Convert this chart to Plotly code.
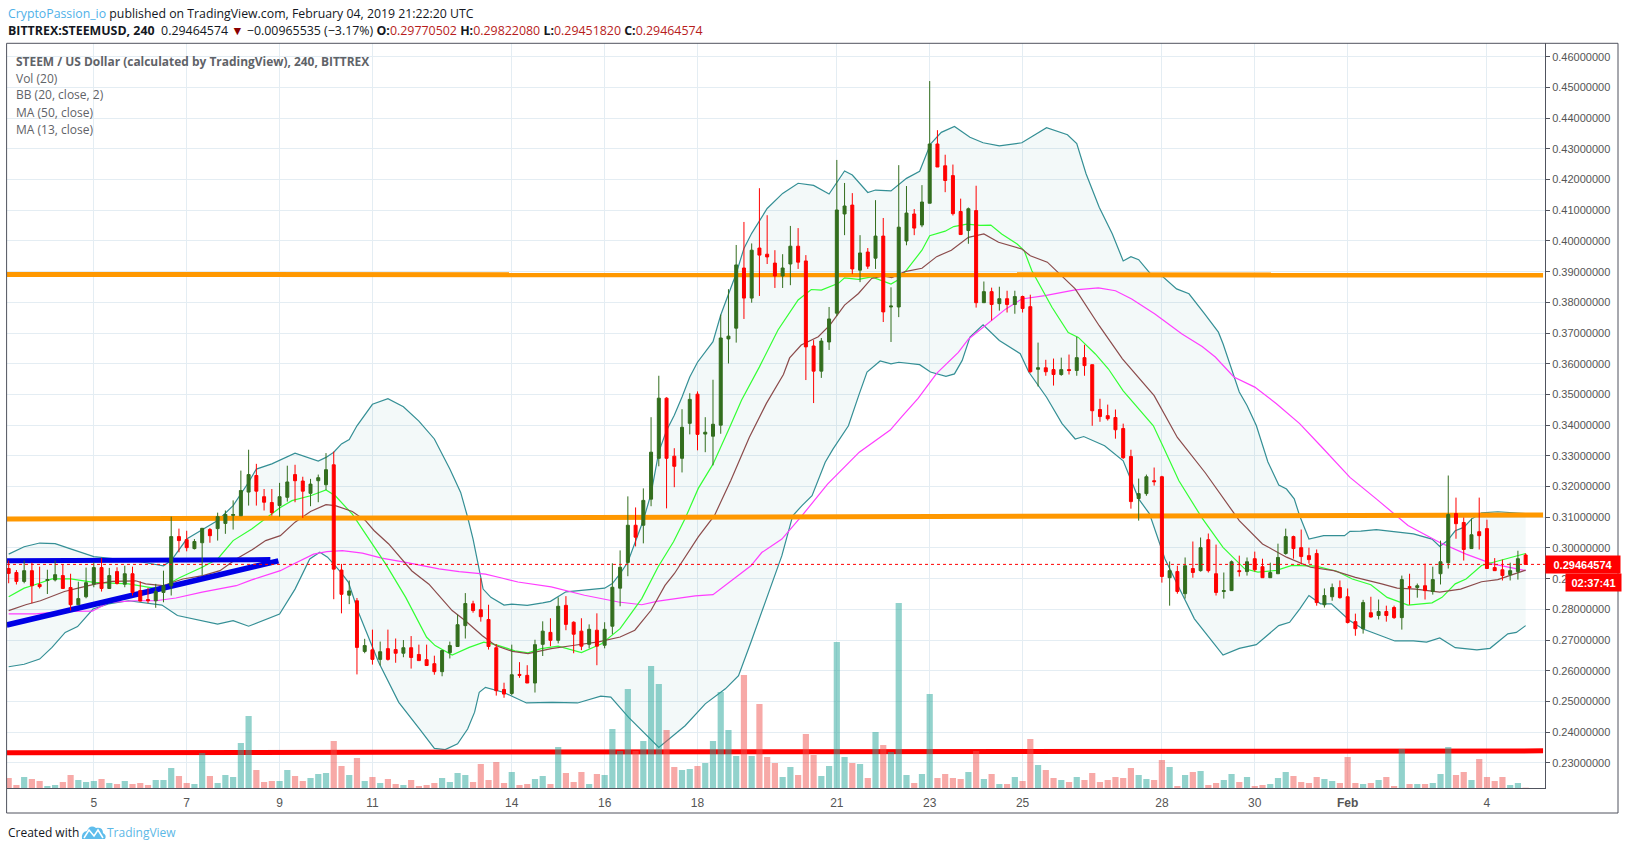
from datetime import datetime, timedelta
import plotly.graph_objects as go

# 4h candles, bar 1 opens Jan 3 04:00
opens = [.2933,.2920,.2891,.2926,.2881,.2894,.2896,.2910,.2871,.2815,
.2841,.2882,.2936,.2868,.2923,.2882,.2916,.2861,.2832,.2828,
.2855,.2877,.3037,.3027,.2998,.3017,.3060,.3063,.3080,.3106,
.3105,.3182,.3236,.3167,.3148,.3138,.3165,.3239,.3218,.3178,
.3219,.3206,.3271,.2928,.2846,.2828,.2663,.2668,.2637,.2672,
.2669,.2657,.2675,.2653,.2636,.2623,.2597,.2659,.2679,.2747,
.2818,.2799,.2767,.2675,.2539,.2526,.2588,.2585,.2560,.2686,
.2725,.2699,.2813,.2758,.2729,.2686,.2732,.2683,.2745,.2869,
.2953,.3074,.3074,.3159,.3292,.3488,.3299,.3292,.3406,.3501,
.3371,.3364,.3400,.3681,.3716,.3912,.3814,.3977,.3957,.3928,
.3886,.3925,.3983,.3935,.3658,.3576,.3671,.3765,.4088,.4117,
.3905,.3964,.3944,.4016,.3785,.3785,.4000,.4088,.4052,.4123,
.4316,.4245,.4213,.4096,.4034,.4099,.3799,.3835,.3796,.3812,
.3793,.3819,.3786,.3582,.3587,.3581,.3565,.3581,.3578,.3620,
.3597,.3451,.3431,.3425,.3389,.3298,.3161,.3177,.3219,.3232,
.2903,.2923,.2851,.2933,.2926,.3027,.2916,.2858,.2861,.2926,
.2923,.2965,.2939,.2903,.2916,.2982,.3037,.3001,.2975,.2982,
.2815,.2841,.2871,.2841,.2760,.2737,.2789,.2780,.2793,.2806,
.2773,.2874,.2871,.2877,.2858,.2916,.2952,.3112,.3083,.2998,
.3053,.3063,.2936,.2929,.2913,.2923,.29770502]
closes = [.2917,.2891,.2926,.2877,.2874,.2897,.2913,.2868,.2815,.2835,
.2887,.2936,.2868,.2910,.2884,.2916,.2855,.2827,.2828,.2858,
.2877,.3037,.3024,.3001,.3021,.3064,.3040,.3102,.3109,.3109,
.3187,.3239,.3185,.3149,.3115,.3167,.3215,.3219,.3185,.3208,
.3229,.3255,.2931,.2849,.2860,.2676,.2682,.2637,.2662,.2637,
.2657,.2675,.2643,.2633,.2617,.2597,.2666,.2682,.2750,.2819,
.2796,.2776,.2679,.2535,.2524,.2587,.2585,.2560,.2685,.2729,
.2699,.2810,.2751,.2719,.2680,.2735,.2680,.2735,.2872,.2937,
.3074,.3035,.3155,.3312,.3488,.3292,.3266,.3393,.3484,.3370,
.3377,.3403,.3684,.3690,.3922,.3814,.3970,.3954,.3948,.3886,
.3912,.3983,.3931,.3655,.3576,.3674,.3746,.4101,.4114,.3909,
.3961,.3918,.4016,.3769,.3788,.4045,.4091,.4042,.4127,.4316,
.4241,.4197,.4089,.4021,.4105,.3799,.3835,.3793,.3812,.3793,
.3819,.3780,.3574,.3587,.3574,.3565,.3581,.3578,.3620,.3594,
.3447,.3428,.3421,.3385,.3294,.3151,.3177,.3232,.3216,.2907,
.2926,.2858,.2942,.2920,.3001,.2926,.2855,.2861,.2955,.2923,
.2955,.2929,.2903,.2920,.2969,.3037,.2998,.2972,.2962,.2822,
.2845,.2871,.2838,.2757,.2737,.2822,.2775,.2793,.2780,.2773,
.2897,.2871,.2877,.2861,.2897,.2955,.3109,.3079,.2995,.3043,
.3040,.2933,.2926,.2910,.2926,.2965,.29464574]
highs = [.2959,.2928,.2959,.2952,.2939,.2929,.2959,.2945,.2916,.2890,
.2936,.2953,.2967,.2935,.2937,.2942,.2939,.2891,.2870,.2883,
.2926,.3102,.3063,.3056,.3029,.3065,.3065,.3115,.3122,.3155,
.3252,.3320,.3274,.3192,.3192,.3212,.3268,.3271,.3232,.3225,
.3239,.3309,.3314,.2948,.2894,.2837,.2704,.2734,.2695,.2734,
.2705,.2700,.2713,.2685,.2685,.2649,.2668,.2695,.2783,.2853,
.2828,.2902,.2815,.2687,.2561,.2685,.2628,.2618,.2701,.2761,
.2771,.2839,.2843,.2761,.2771,.2751,.2787,.2758,.2950,.2992,
.3168,.3132,.3194,.3426,.3561,.3491,.3325,.3452,.3504,.3510,
.3426,.3548,.3760,.3843,.3987,.4062,.3992,.4172,.4084,.3970,
.3957,.4049,.4042,.3954,.3677,.3684,.3785,.4264,.4189,.4156,
.4019,.3977,.4133,.4075,.3849,.4247,.4179,.4104,.4182,.4521,
.4361,.4281,.4249,.4138,.4109,.4180,.3868,.3848,.3851,.3838,
.3838,.3822,.3825,.3669,.3613,.3617,.3620,.3630,.3688,.3662,
.3597,.3486,.3467,.3451,.3405,.3320,.3226,.3239,.3262,.3235,
.2956,.2942,.2969,.3021,.3034,.3047,.3011,.2920,.2959,.2975,
.2969,.2988,.2965,.2952,.3014,.3063,.3040,.3060,.3001,.2995,
.2868,.2884,.2894,.2868,.2786,.2831,.2841,.2832,.2812,.2812,
.2910,.2916,.2884,.2949,.2939,.3024,.3236,.3164,.3099,.3096,
.3164,.3092,.2967,.2962,.2952,.2991,.29822080]
lows = [.2885,.2881,.2885,.2820,.2868,.2850,.2891,.2868,.2796,.2815,
.2836,.2872,.2858,.2868,.2881,.2872,.2845,.2826,.2820,.2805,
.2823,.2845,.2986,.2989,.2995,.2910,.3017,.3024,.3046,.3060,
.3105,.3138,.3138,.3122,.3105,.3102,.3151,.3149,.3098,.3136,
.3149,.3189,.2833,.2787,.2817,.2588,.2657,.2620,.2617,.2633,
.2626,.2644,.2607,.2633,.2617,.2587,.2582,.2640,.2679,.2705,
.2789,.2760,.2669,.2519,.2512,.2520,.2577,.2560,.2529,.2648,
.2680,.2689,.2732,.2657,.2667,.2673,.2618,.2673,.2719,.2810,
.2908,.3005,.3015,.3136,.3266,.3129,.3198,.3246,.3370,.3318,
.3312,.3269,.3372,.3601,.3669,.3746,.3799,.3821,.3925,.3847,
.3847,.3856,.3909,.3547,.3472,.3554,.3645,.3755,.4019,.3892,
.3866,.3909,.3909,.3736,.3671,.3752,.3986,.4019,.4045,.4123,
.4241,.4159,.4083,.4021,.3991,.3783,.3799,.3741,.3773,.3767,
.3763,.3767,.3571,.3526,.3561,.3529,.3561,.3565,.3561,.3561,
.3398,.3411,.3415,.3356,.3290,.3128,.3089,.3170,.3203,.2887,
.2812,.2851,.2835,.2903,.2923,.2920,.2845,.2835,.2861,.2907,
.2910,.2923,.2903,.2903,.2916,.2978,.2965,.2946,.2949,.2812,
.2806,.2828,.2835,.2754,.2714,.2721,.2773,.2767,.2760,.2769,
.2734,.2815,.2838,.2832,.2848,.2881,.2933,.3030,.2959,.2998,
.2995,.2933,.2926,.2894,.2894,.2897,.29451820]
volumes = [10,3,11,9,7,2,3,6,13,8,6,7,9,5,4,7,4,5,3,8,
8,20,12,5,4,35,12,5,13,11,45,72,18,6,7,7,18,12,7,10,
14,15,47,22,13,30,7,11,5,9,4,3,8,2,3,5,10,6,15,13,
6,24,8,26,5,16,3,4,9,12,4,41,15,6,16,4,14,13,59,37,
99,37,47,122,104,58,21,18,19,22,25,47,96,58,32,113,32,84,31,25,
11,21,13,54,33,12,22,146,31,25,24,10,56,43,36,185,13,5,14,94,
10,14,10,9,16,37,9,14,4,4,11,7,49,23,18,10,8,6,11,8,
15,6,8,11,10,20,13,9,8,28,21,2,13,16,17,3,5,8,14,6,
11,2,3,4,10,16,12,6,5,11,9,7,5,31,5,4,5,8,11,2,
39,4,4,4,5,14,41,13,16,8,29,11,7,11,3,5,0.3]

upper_bars = [1,3,5,7,9,12,15,18,20,21,22,24,26,28,30,32,33,35,38,39,41,42,43,44,45,46,48,50,52,54,
56,58,59.4,60.3,61,61.7,62.3,63.3,65,66,68,70,71,73,75,78,79,80,81,83,84,85,86,87,88,89,90,92,93,94,
95,96,97,99,101,103,105,107,109,110,112,113,115,117,118.7,120.1,121.5,123.2,125.2,126.9,129,131.9,135.1,137.8,139,140.2,141.9,143.6,145,146,
147,148.7,150.1,151.9,153.5,155.5,157.3,157.9,159.3,160,161,162.2,163.7,165.1,166.1,167.1,167.8,169,170.9,173.6,174.3,175.7,177.7,180.4,182.5,184.9,185.9,186.9,187.9,189,
190,191.3,193.4,197]
upper_vals = [.2980,.3004,.3016,.3014,.2997,.2972,.2964,.2955,.2946,.2942,.2959,.3029,.3059,.3089,.3138,.3214,.3257,.3274,.3309,.3301,.3283,.3295,.3312,.3339,.3353,.3398,.3468,.3486,.3460,.3413,
.3355,.3257,.3181,.3100,.3029,.2942,.2866,.2839,.2814,.2817,.2813,.2821,.2826,.2857,.2862,.2869,.2884,.2916,.2954,.3090,.3177,.3313,.3383,.3432,.3492,.3557,.3605,.3672,.3759,.3827,
.3894,.3976,.4025,.4106,.4155,.4188,.4181,.4153,.4228,.4215,.4158,.4166,.4163,.4204,.4227,.4316,.4354,.4373,.4338,.4320,.4310,.4320,.4369,.4346,.4317,.4219,.4110,.4023,.3935,.3949,
.3939,.3888,.3884,.3844,.3828,.3763,.3703,.3665,.3556,.3508,.3464,.3399,.3280,.3205,.3192,.3160,.3105,.3029,.3040,.3040,.3054,.3055,.3060,.3051,.3046,.3029,.3005,.3024,.3056,.3067,
.3094,.3114,.3118,.3112]

lower_bars = [1,3,5,6.6,8.3,9.9,11.9,13.9,16.5,20.8,22.8,28,30,32,36,38,39.9,41.2,42.2,43.9,44.9,46.2,48.8,51.4,54.1,56,57.4,59,60.3,61.2,
61.8,62.6,64.9,67.9,71.2,74.5,77.5,78.8,81.1,85,88.4,91,93.6,95.3,96.9,98.9,100.9,102.3,103.5,104.8,106.5,107.5,109.5,110.9,111.9,113.6,115,116,118.7,120.1,
122.1,123.2,124.2,125.2,126.9,129,131.7,132.8,135.1,137.1,138.8,139.9,142.6,145,147,148.4,150.4,152.5,154.2,157.9,160,162.2,165.1,166.5,167.8,169,170.5,171.9,174.3,176,
177.7,180.1,182.5,184.2,185.9,187.9,190.7,192.4,194.7,195.8,197]
lower_vals = [.2613,.2621,.2638,.2676,.2725,.2744,.2801,.2818,.2828,.2814,.2780,.2752,.2763,.2745,.2785,.2866,.2964,.2986,.2970,.2921,.2888,.2790,.2628,.2497,.2410,.2347,.2343,.2362,.2410,.2465,
.2530,.2546,.2530,.2495,.2497,.2495,.2517,.2514,.2448,.2350,.2421,.2492,.2541,.2584,.2693,.2834,.2975,.3105,.3138,.3170,.3279,.3322,.3398,.3502,.3573,.3609,.3600,.3605,.3597,.3573,
.3559,.3567,.3611,.3687,.3727,.3676,.3633,.3573,.3491,.3405,.3355,.3363,.3333,.3284,.3160,.3111,.2964,.2856,.2769,.2651,.2673,.2685,.2747,.2758,.2801,.2845,.2818,.2818,.2763,.2736,
.2720,.2697,.2697,.2693,.2707,.2675,.2668,.2673,.2720,.2725,.2747]

green_bars = [1,3,4,6.6,9,12,16.5,20.5,23,26,28,30,32.4,34.6,36.1,37.6,40,42,43.2,45.4,47.1,49.7,52.3,55,56.1,58.3,60.5,62.4,63.9,66.4,
68.1,69.8,72,75,77.6,80,82.8,84.9,86.9,88.4,90.1,92,94,95.7,98,100.4,103,104.7,106,108.2,109,110.8,112.5,115,115.9,117,119,120,122,123.1,
124.8,126.5,127.9,129.3,131.3,132.2,133.2,135.8,137.9,139.2,141.4,143.1,145,148.9,150.2,152.2,155.2,157.9,160.7,162.4,164.8,166.8,169.9,172.6,174.6,177,179.1,181.8,184.9,186.2,
187.9,189.3,191.3,194,197]
green_vals = [.2841,.2869,.2877,.2899,.2899,.2888,.2883,.2866,.2902,.2937,.2964,.3024,.3062,.3105,.3132,.3154,.3170,.3189,.3170,.3110,.3046,.2948,.2839,.2709,.2682,.2651,.2676,.2693,.2685,.2665,
.2658,.2672,.2680,.2659,.2688,.2737,.2835,.2938,.3020,.3096,.3194,.3273,.3384,.3482,.3590,.3710,.3808,.3842,.3840,.3862,.3880,.3875,.3883,.3860,.3873,.3905,.3970,.4017,.4032,.4047,
.4055,.4051,.4052,.4023,.3990,.3969,.3903,.3784,.3702,.3686,.3632,.3583,.3512,.3398,.3328,.3219,.3097,.3002,.2932,.2921,.2927,.2943,.2941,.2924,.2899,.2880,.2839,.2814,.2821,.2839,
.2883,.2899,.2943,.2962,.2982]

brown_bars = [1,3.2,5.1,8.2,10.1,12.3,14.4,17.4,18.7,20.9,23.5,26.1,28.3,30.4,32.4,34.2,36.1,38,40,42,43.2,45.4,47.1,48.2,50.1,53.1,55.3,58.3,60,62.2,
63.9,66.1,68.1,71.1,74.1,77.2,80,81.9,84,85.8,87,90.1,92.2,94.3,96.7,98.9,101.1,101.9,103.4,105.6,107.1,109,110.8,112.5,114,115.1,116.8,119,120.9,122.8,
125,127,128.9,131.9,133,135.2,138.8,141.9,144.9,149,152,155.6,160,163,166.1,169.2,172.2,175,178.4,180.4,182.8,185.9,188.6,191.3,193.4,197]
brown_vals = [.2796,.2815,.2828,.2858,.2870,.2883,.2891,.2893,.2883,.2877,.2899,.2910,.2926,.2964,.2993,.3024,.3040,.3084,.3119,.3141,.3138,.3119,.3089,.3057,.3013,.2925,.2882,.2796,.2763,.2714,
.2682,.2663,.2656,.2672,.2683,.2694,.2710,.2732,.2797,.2878,.2916,.3036,.3106,.3220,.3361,.3471,.3565,.3619,.3661,.3688,.3726,.3791,.3829,.3878,.3886,.3881,.3900,.3911,.3949,.3970,
.4012,.4023,.3996,.3974,.3952,.3931,.3844,.3724,.3616,.3496,.3360,.3245,.3089,.3013,.2970,.2937,.2926,.2904,.2883,.2869,.2866,.2856,.2866,.2890,.2897,.2928]

magenta_bars = [1,4.5,7.9,11.8,14,17.4,20,22.6,26,30.4,32.4,36.1,37.8,40.4,42.1,44.1,46.7,49.2,52.3,56.6,59.2,62.6,64.7,66.8,71.1,75.4,79.8,82.8,84.9,89.7,
92,94.4,96.9,98.3,100.9,103.5,106.8,110.9,114.9,116.4,118.5,120.9,123.7,125,127.2,129.8,131.9,134.9,138.8,141.8,144,146.1,149.1,152.6,155.2,156.9,159.3,162,164.8,167.8,
170.5,174.3,177.7,181.8,185.9,189.3,192.7,197]
magenta_vals = [.2785,.2785,.2793,.2794,.2823,.2828,.2828,.2837,.2856,.2877,.2896,.2926,.2948,.2980,.2988,.2991,.2983,.2967,.2953,.2932,.2923,.2915,.2902,.2889,.2873,.2846,.2824,.2815,.2827,.2844,
.2848,.2895,.2942,.2985,.3029,.3105,.3208,.3312,.3384,.3428,.3487,.3569,.3637,.3680,.3724,.3778,.3811,.3822,.3841,.3847,.3838,.3811,.3762,.3697,.3656,.3622,.3557,.3524,.3470,.3405,
.3333,.3230,.3160,.3073,.3018,.2980,.2948,.2926]

# drawn trend lines
line_start = "2019-01-03 03:00"
line_end = "2019-02-05 05:00"
orange_top = [.3891, .3889]
orange_mid = [.30945, .31075]
red_bottom = [.2333, .2339]
blue_flat_x = [line_start, "2019-01-08 19:15"]
blue_flat = [.2958, .2962]
blue_rise_x = [line_start, "2019-01-08 23:24"]
blue_rise = [.2749, .2958]

tick_dates = ["2019-01-05", "2019-01-07", "2019-01-09", "2019-01-11", "2019-01-14", "2019-01-16", "2019-01-18",
              "2019-01-21", "2019-01-23", "2019-01-25", "2019-01-28", "2019-01-30", "2019-02-01", "2019-02-04"]
tick_names = ["5", "7", "9", "11", "14", "16", "18", "21", "23", "25", "28", "30", "<b>Feb</b>", "4"]
price_ticks = [.23, .24, .25, .26, .27, .28, .29, .30, .31, .32, .33, .34, .35, .36, .37, .38, .39, .40, .41, .42, .43, .44, .45, .46]

W, H = 1627, 850
L, R, T, B = 7, 1545, 43, 788
Y_RANGE = [.2218, .4645]
GREY = "#50535e"
UP = "#336e1e"
DOWN = "#ff0000"


def bar_time(b):
    return datetime(2019, 1, 3, 4) + timedelta(hours=4 * (b - 1))


def px(x):
    return (x - L) / (R - L)


def py(y):
    return (B - y) / (B - T)


times = [bar_time(i + 1) for i in range(len(opens))]

fig = go.Figure()

# band fill
fig.add_trace(go.Scatter(
    x=[bar_time(b) for b in upper_bars] + [bar_time(b) for b in lower_bars[::-1]],
    y=upper_vals + lower_vals[::-1],
    mode="lines", line={"width": 0}, fill="toself", fillcolor="rgba(19,132,132,0.05)"))

for bars, vals, col in [(upper_bars, upper_vals, "#348f95"), (lower_bars, lower_vals, "#348f95"),
                        (magenta_bars, magenta_vals, "#ff3dff"), (green_bars, green_vals, "#33ff33"),
                        (brown_bars, brown_vals, "#8b4b4b")]:
    fig.add_trace(go.Scatter(x=[bar_time(b) for b in bars], y=vals, mode="lines", line={"color": col, "width": 1.2}))

for xs, ys, col, w in [([line_start, line_end], orange_top, "#ff9800", 5),
                       ([line_start, line_end], orange_mid, "#ff9800", 5),
                       ([line_start, line_end], red_bottom, "#ff0000", 5),
                       (blue_flat_x, blue_flat, "#0000e6", 5),
                       (blue_rise_x, blue_rise, "#0000e6", 5.5)]:
    fig.add_trace(go.Scatter(x=xs, y=ys, mode="lines", line={"color": col, "width": w}))

# volume, overlay axis so it sits over the lines
vol_colors = ["rgba(38,166,154,0.5)" if c >= o else "rgba(239,83,80,0.5)" for o, c in zip(opens, closes)]
fig.add_trace(go.Bar(x=times, y=volumes, marker={"color": vol_colors, "line": {"width": 0}}, yaxis="y2"))

fig.add_trace(go.Candlestick(
    x=times, open=opens, high=highs, low=lows, close=closes, yaxis="y3", whiskerwidth=0,
    increasing={"line": {"color": UP, "width": 1}, "fillcolor": UP},
    decreasing={"line": {"color": DOWN, "width": 1}, "fillcolor": DOWN}))

fig.update_layout(
    width=W, height=H, margin={"l": L, "r": W - R, "t": T, "b": H - B, "autoexpand": False},
    paper_bgcolor="white", plot_bgcolor="white", showlegend=False, bargap=0.2, boxgap=0.45,
    xaxis={"type": "date", "range": ["2019-01-03 03:08", "2019-02-05 06:00"], "rangeslider": {"visible": False},
           "tickvals": tick_dates, "ticktext": tick_names, "tickangle": 0,
           "showgrid": True, "gridcolor": "#e4edf3", "gridwidth": 1, "zeroline": False,
           "ticks": "outside", "ticklen": 4, "tickcolor": "rgba(0,0,0,0)",
           "tickfont": {"family": "Liberation Sans", "size": 12, "color": "#555555"},
           "showline": True, "linecolor": GREY, "linewidth": 1},
    yaxis={"range": Y_RANGE, "side": "right", "tickvals": price_ticks,
           "ticktext": [f"{v:.8f}" for v in price_ticks],
           "showgrid": True, "gridcolor": "#e4edf3", "gridwidth": 1, "zeroline": False,
           "ticks": "outside", "ticklen": 4, "tickcolor": GREY,
           "tickfont": {"family": "Liberation Sans", "size": 11, "color": "#555555"},
           "showline": True, "linecolor": GREY, "linewidth": 1},
    yaxis2={"range": [0, 745], "overlaying": "y", "visible": False},
    yaxis3={"range": Y_RANGE, "overlaying": "y", "visible": False},
)

last = closes[-1]
logo = "M 82 839 Q 81 832 87 831 Q 90 824 96 828 Q 103 827 103 833 Q 107 835 105 839 Z"


def logo_path():
    parts = logo.split()
    out = []
    i = 0
    while i < len(parts):
        if parts[i].isalpha():
            out.append(parts[i])
            i += 1
        else:
            out.append(f"{px(float(parts[i])):.5f},{py(float(parts[i + 1])):.5f}")
            i += 2
    return " ".join(out)


def mark_path():
    pts = [(84, 838), (89, 830), (94, 836), (98, 830), (103, 838)]
    return "M " + " L ".join(f"{px(a):.5f},{py(b):.5f}" for a, b in pts)


fig.update_layout(shapes=[
    {"type": "rect", "xref": "paper", "yref": "paper", "x0": px(6.6), "x1": px(1618), "y0": py(813), "y1": py(43.3),
     "line": {"color": GREY, "width": 1}},
    {"type": "line", "xref": "paper", "yref": "y", "x0": 0, "x1": 1, "y0": last, "y1": last,
     "line": {"color": "#ff0000", "width": 1, "dash": "dot"}},
    {"type": "path", "xref": "paper", "yref": "paper", "path": logo_path(), "fillcolor": "#5fbdec", "line": {"width": 0}},
    {"type": "path", "xref": "paper", "yref": "paper", "path": mark_path(), "line": {"color": "white", "width": 1.5}},
])


def note(x, y, text, size=12.3, color="#131722", family="Open Sans"):
    return {"xref": "paper", "yref": "paper", "x": px(x), "y": py(y), "xanchor": "left", "yanchor": "middle",
            "text": text, "showarrow": False, "font": {"family": family, "size": size, "color": color}}


RED_TXT = "#b71c1c"
quote = (f'<b>BITTREX:STEEMUSD, 240</b>  0.29464574 <span style="color:#8b0000">▼</span> −0.00965535 (−3.17%) '
         f'<b>O:</b><span style="color:{RED_TXT}">0.29770502</span> <b>H:</b><span style="color:{RED_TXT}">0.29822080</span> '
         f'<b>L:</b><span style="color:{RED_TXT}">0.29451820</span> <b>C:</b><span style="color:{RED_TXT}">0.29464574</span>')
notes = [
    note(5.5, 13, '<span style="color:#4fb1e8">CryptoPassion_io</span> published on TradingView.com, February 04, 2019 21:22:20 UTC'),
    note(5.5, 30, quote, size=12.4),
    note(13.5, 61, "<b>STEEM / US Dollar (calculated by TradingView), 240, BITTREX</b>", size=11.95, color="#5f6368"),
    note(13.5, 78, "Vol (20)", size=12, color="#5f6368"),
    note(13.5, 95, "BB (20, close, 2)", size=12, color="#5f6368"),
    note(13.5, 112, "MA (50, close)", size=12, color="#5f6368"),
    note(13.5, 129, "MA (13, close)", size=12, color="#5f6368"),
    note(5.5, 832, "Created with", size=12),
    note(105, 832, "TradingView", size=12, color="#5cb8e6"),
    {"xref": "paper", "yref": "y", "x": px(1545), "y": last, "xanchor": "left", "yanchor": "middle",
     "text": "<b>0.29464574</b>", "showarrow": False, "bgcolor": "#ff0000", "width": 72, "height": 15,
     "font": {"family": "Liberation Sans", "size": 11, "color": "white"}},
    {"xref": "paper", "yref": "paper", "x": px(1565), "y": py(582.5), "xanchor": "left", "yanchor": "middle",
     "text": "<b>02:37:41</b>", "showarrow": False, "bgcolor": "#ff0000", "width": 53, "height": 15,
     "font": {"family": "Liberation Sans", "size": 11, "color": "white"}},
]
fig.update_layout(annotations=notes)

fig.write_html("out.html", config={"displayModeBar": False},
               post_script="document.body.style.margin='0';document.body.style.overflow='hidden';")
